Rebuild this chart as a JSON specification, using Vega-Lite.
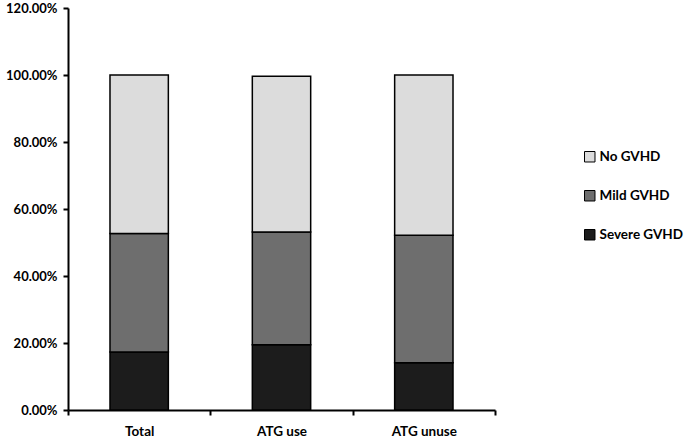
{
  "$schema": "https://vega.github.io/schema/vega-lite/v6.json",
  "width": 427,
  "height": 402,
  "autosize": {"type": "none"},
  "padding": {"left": 68, "top": 8, "right": 190, "bottom": 28},
  "background": "white",
  "config": {"view": {"stroke": null}, "font": "Lato"},
  "data": {
    "values": [
      {"group": "Total", "type": "Severe GVHD", "rank": 1, "value": 0.173},
      {"group": "Total", "type": "Mild GVHD", "rank": 2, "value": 0.354},
      {"group": "Total", "type": "No GVHD", "rank": 3, "value": 0.473},
      {"group": "ATG use", "type": "Severe GVHD", "rank": 1, "value": 0.195},
      {"group": "ATG use", "type": "Mild GVHD", "rank": 2, "value": 0.336},
      {"group": "ATG use", "type": "No GVHD", "rank": 3, "value": 0.465},
      {"group": "ATG unuse", "type": "Severe GVHD", "rank": 1, "value": 0.141},
      {"group": "ATG unuse", "type": "Mild GVHD", "rank": 2, "value": 0.381},
      {"group": "ATG unuse", "type": "No GVHD", "rank": 3, "value": 0.478}
    ]
  },
  "mark": {"type": "bar", "stroke": "black", "strokeWidth": 1.5, "width": {"band": 0.41}},
  "encoding": {
    "x": {
      "field": "group", "type": "nominal", "sort": ["Total", "ATG use", "ATG unuse"],
      "scale": {"paddingInner": 0, "paddingOuter": 0},
      "axis": {
        "title": null, "labelAngle": 0, "tickBand": "extent",
        "domainColor": "black", "domainWidth": 2, "tickColor": "black", "tickWidth": 2, "tickSize": 5,
        "labelFont": "Lato", "labelFontWeight": "bold", "labelFontSize": 13.5, "labelColor": "black", "labelPadding": 9
      }
    },
    "y": {
      "field": "value", "type": "quantitative", "stack": "zero",
      "scale": {"domain": [0, 1.2], "nice": false},
      "axis": {
        "title": null, "format": ".2%", "values": [0, 0.2, 0.4, 0.6, 0.8, 1.0, 1.2], "grid": false,
        "domainColor": "black", "domainWidth": 2, "tickColor": "black", "tickWidth": 2, "tickSize": 5,
        "labelFont": "Lato", "labelFontWeight": "bold", "labelFontSize": 13, "labelColor": "black", "labelPadding": 6
      }
    },
    "color": {
      "field": "type", "type": "nominal",
      "scale": {"domain": ["No GVHD", "Mild GVHD", "Severe GVHD"], "range": ["#dcdcdc", "#6e6e6e", "#1c1c1c"]},
      "legend": {
        "title": null, "orient": "none", "legendX": 515, "legendY": 142,
        "symbolType": "square", "symbolSize": 110, "symbolStrokeColor": "black", "symbolStrokeWidth": 1,
        "labelFont": "Lato", "labelFontWeight": "bold", "labelFontSize": 13.5, "labelColor": "black",
        "rowPadding": 24, "labelOffset": 3
      }
    },
    "order": {"field": "rank", "type": "quantitative"}
  }
}
